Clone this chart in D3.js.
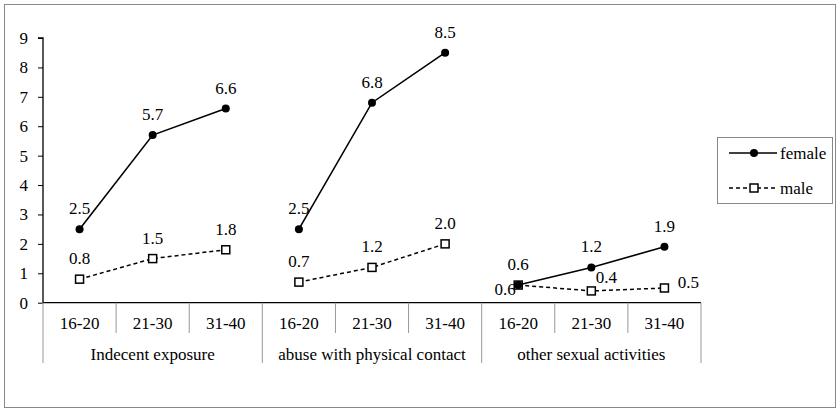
<!DOCTYPE html>
<html><head><meta charset="utf-8">
<script src="https://cdn.jsdelivr.net/npm/d3@7"></script>
<style>body{margin:0;background:#fff}</style>
</head><body>
<svg id="c" width="839" height="409"></svg>
<script>
const groups = ["Indecent exposure", "abuse with physical contact", "other sexual activities"];
const ages = ["16-20", "21-30", "31-40"];
const female = [2.5, 5.7, 6.6, 2.5, 6.8, 8.5, 0.6, 1.2, 1.9];
const male = [0.8, 1.5, 1.8, 0.7, 1.2, 2.0, 0.6, 0.4, 0.5];
const yTicks = [0,1,2,3,4,5,6,7,8,9];

const svg = d3.select("#c");
const L = 43, R = 701, T = 38, B = 302.7;
const FS = "17px";
function txt(sel){ return sel.style("font-family",'"Liberation Serif"').style("font-size",FS); }

svg.append("rect").attr("x",4.5).attr("y",4.5).attr("width",831).attr("height",403)
  .attr("fill","none").attr("stroke","#888").attr("stroke-width",1);

const keys = [];
groups.forEach((g,gi)=>ages.forEach((a,ai)=>keys.push(gi+"|"+a)));
const x = d3.scaleBand().domain(keys).range([L,R]);
const y = d3.scaleLinear().domain([0,9]).range([B,T]);

// y axis
const ya = svg.append("g").attr("transform",`translate(${L},0)`)
  .call(d3.axisLeft(y).tickValues(yTicks).tickSize(5).tickPadding(10).tickFormat(d3.format("d")));
ya.attr("font-family",null).attr("font-size",null);
ya.select(".domain").attr("stroke","#000").attr("stroke-width",1.3).attr("d",`M-5,${T}H0V${B}`);
ya.selectAll(".tick line").attr("stroke","#000");
txt(ya.selectAll("text").attr("fill","#000"));

// x axis line
svg.append("line").attr("x1",L).attr("x2",R).attr("y1",B).attr("y2",B).attr("stroke","#000").attr("stroke-width",1.3);
// separators
keys.forEach((k,i)=>{
  const xs = x(k);
  const isGroup = i % 3 === 0;
  svg.append("line").attr("x1",xs).attr("x2",xs).attr("y1",B).attr("y2",isGroup?363:333)
    .attr("stroke", "#999").attr("stroke-width",1);
});
svg.append("line").attr("x1",R).attr("x2",R).attr("y1",B).attr("y2",363).attr("stroke","#999");

keys.forEach((k,i)=>{
  txt(svg.append("text").attr("x",x(k)+x.bandwidth()/2).attr("y",323).attr("dy","0.35em")
    .attr("text-anchor","middle")).text(ages[i%3]);
});
groups.forEach((g,gi)=>{
  const x0 = x(gi+"|"+ages[0]), x1 = x(gi+"|"+ages[2])+x.bandwidth();
  txt(svg.append("text").attr("x",(x0+x1)/2).attr("y",354).attr("dy","0.35em")
    .attr("text-anchor","middle")).text(g);
});

const cx = i => x(keys[i]) + x.bandwidth()/2;

// lines per group
[0,1,2].forEach(gi=>{
  const idx = [gi*3, gi*3+1, gi*3+2];
  svg.append("path").attr("d", d3.line().x(i=>cx(i)).y(i=>y(male[i]))(idx))
    .attr("fill","none").attr("stroke","#000").attr("stroke-width",1.5).attr("stroke-dasharray","4 3");
  svg.append("path").attr("d", d3.line().x(i=>cx(i)).y(i=>y(female[i]))(idx))
    .attr("fill","none").attr("stroke","#000").attr("stroke-width",1.6);
});
male.forEach((v,i)=>{
  svg.append("rect").attr("x",cx(i)-4).attr("y",y(v)-4).attr("width",8).attr("height",8)
    .attr("fill","#fff").attr("stroke","#000").attr("stroke-width",1.5);
});
female.forEach((v,i)=>{
  svg.append("circle").attr("cx",cx(i)).attr("cy",y(v)).attr("r",4).attr("fill","#000");
});

// labels
const maleOff = [[0,-21],[0,-21],[0,-21],[0,-21],[0,-21],[0,-21],[-13,4],[15,-14],[24,-6]];
female.forEach((v,i)=>{
  txt(svg.append("text").attr("x",cx(i)).attr("y",y(v)-21).attr("dy","0.35em").attr("text-anchor","middle"))
    .text(v.toFixed(1));
});
male.forEach((v,i)=>{
  txt(svg.append("text").attr("x",cx(i)+maleOff[i][0]).attr("y",y(v)+maleOff[i][1]).attr("dy","0.35em").attr("text-anchor","middle"))
    .text(v.toFixed(1));
});

// legend
svg.append("rect").attr("x",717.5).attr("y",137.5).attr("width",115).attr("height",66)
  .attr("fill","#fff").attr("stroke","#888");
svg.append("line").attr("x1",729).attr("x2",777).attr("y1",153).attr("y2",153).attr("stroke","#000").attr("stroke-width",1.6);
svg.append("circle").attr("cx",754).attr("cy",153).attr("r",4).attr("fill","#000");
txt(svg.append("text").attr("x",780).attr("y",153).attr("dy","0.35em")).text("female");
svg.append("line").attr("x1",729).attr("x2",777).attr("y1",188).attr("y2",188).attr("stroke","#000").attr("stroke-width",1.5).attr("stroke-dasharray","4 3");
svg.append("rect").attr("x",750).attr("y",184).attr("width",8).attr("height",8).attr("fill","#fff").attr("stroke","#000").attr("stroke-width",1.5);
txt(svg.append("text").attr("x",780).attr("y",188).attr("dy","0.35em")).text("male");
</script>
</body></html>
